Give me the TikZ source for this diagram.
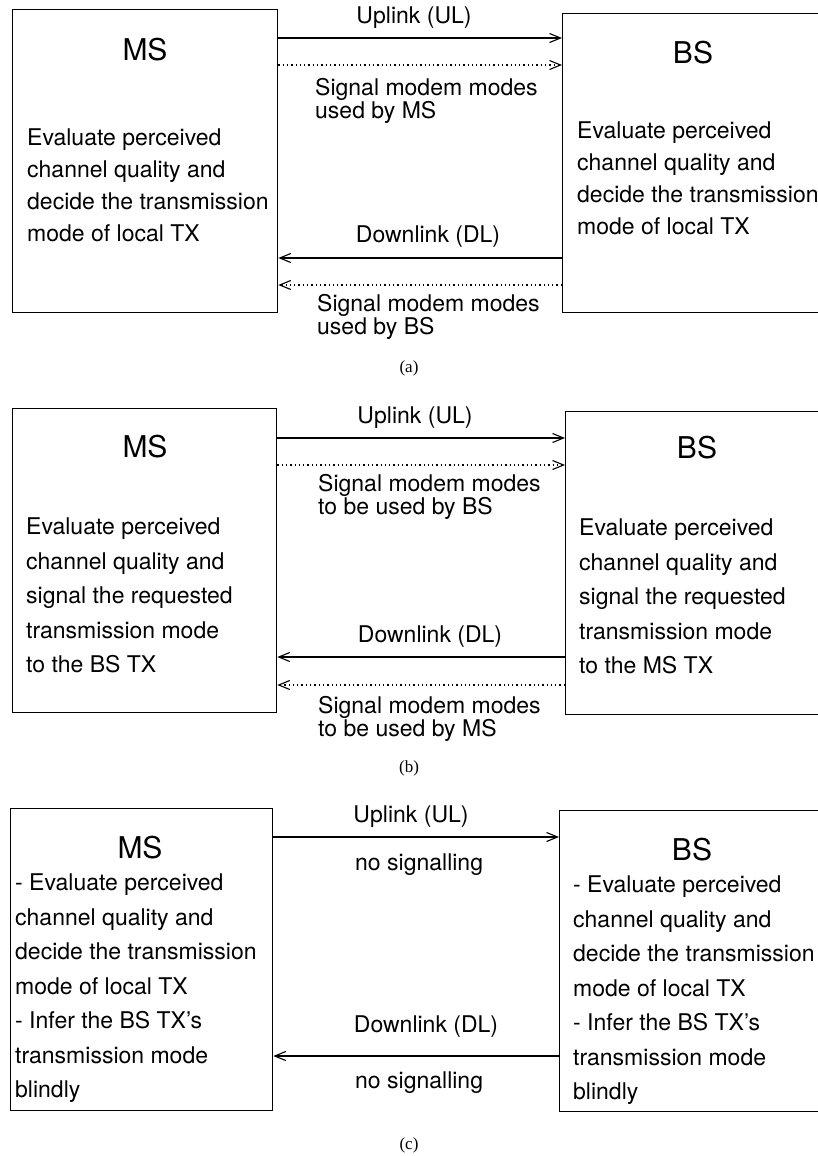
\documentclass[tikz,border=0pt]{standalone}
\usepackage{fontspec}
\setmainfont{TeX Gyre Heros}
\newfontfamily\capfont{Liberation Serif}
\usetikzlibrary{arrows.meta}
\tikzset{
  box/.style={draw, line width=1.3pt, inner sep=0pt, anchor=north west},
  ttl/.style={font=\fontsize{30}{30}\selectfont, inner sep=0pt},
  bodya/.style={font=\fontsize{23}{31.8}\selectfont, align=left, anchor=north west, inner sep=0pt},
  bodyb/.style={font=\fontsize{23}{34.5}\selectfont, align=left, anchor=north west, inner sep=0pt},
  lbl/.style={font=\fontsize{23}{19.5}\selectfont, align=left, inner sep=0pt},
  figcap/.style={font=\capfont\fontsize{17}{17}\selectfont, inner sep=0pt},
  link/.style={line width=1.3pt, -{Straight Barb[length=11pt,width=9pt,line width=1.1pt]}},
  sig/.style={link, dash pattern=on 1.3pt off 3pt}
}
\begin{document}
\begin{tikzpicture}[x=1pt,y=-1pt]
\useasboundingbox (0,0) rectangle (818,1156);
\clip (0,0) rectangle (818,1156);
% ---------------- (a)
\node[box, minimum width=265pt, minimum height=303pt] (msa) at (12,9) {};
\node[box, minimum width=300pt, minimum height=299pt] (bsa) at (562,13) {};
\node[ttl] (msat) at (145,50) {MS};
\node[ttl] (bsat) at (693,53) {BS};
\node[bodya] (msab) at (27,129) {Evaluate perceived\\channel quality and\\decide the transmission\\mode of local TX};
\node[bodya] (bsab) at (577,122) {Evaluate perceived\\channel quality and\\decide the transmission\\mode of local TX};
\node[lbl] (ula) at (414,18) {Uplink (UL)};
\draw[link] (msa.east |- 0,38) -- (bsa.west |- 0,38);
\draw[sig] (msa.east |- 0,65) -- (bsa.west |- 0,65);
\node[lbl, anchor=north west] (sula) at (315,78) {Signal modem modes\\used by MS};
\node[lbl] (dla) at (428,237) {Downlink (DL)};
\draw[link] (bsa.west |- 0,258) -- (msa.east |- 0,258);
\draw[sig] (bsa.west |- 0,285) -- (msa.east |- 0,285);
\node[lbl, anchor=north west] (sdla) at (317,294) {Signal modem modes\\used by BS};
\node[figcap] (capa) at (409,368) {(a)};
% ---------------- (b)
\node[box, minimum width=264pt, minimum height=304pt] (msb) at (12,408) {};
\node[box, minimum width=300pt, minimum height=303pt] (bsb) at (565,411) {};
\node[ttl] (msbt) at (145,447) {MS};
\node[ttl] (bsbt) at (697,448) {BS};
\node[bodyb] (msbb) at (26,518) {Evaluate perceived\\channel quality and\\signal the requested\\transmission mode\\to the BS TX};
\node[bodyb] (bsbb) at (579,519) {Evaluate perceived\\channel quality and\\signal the requested\\transmission mode\\to the MS TX};
\node[lbl] (ulb) at (415,418) {Uplink (UL)};
\draw[link] (msb.east |- 0,438) -- (bsb.west |- 0,438);
\draw[sig] (msb.east |- 0,465) -- (bsb.west |- 0,465);
\node[lbl, anchor=north west] (sulb) at (318,474) {Signal modem modes\\to be used by BS};
\node[lbl] (dlb) at (430,637) {Downlink (DL)};
\draw[link] (bsb.west |- 0,657) -- (msb.east |- 0,657);
\draw[sig] (bsb.west |- 0,685) -- (msb.east |- 0,685);
\node[lbl, anchor=north west] (sdlb) at (318,696) {Signal modem modes\\to be used by MS};
\node[figcap] (capb) at (409,768) {(b)};
% ---------------- (c)
\node[box, minimum width=262pt, minimum height=302pt] (msc) at (10,808) {};
\node[box, minimum width=300pt, minimum height=301pt] (bsc) at (559,810) {};
\node[ttl] (msct) at (140,848) {MS};
\node[ttl] (bsct) at (692,850) {BS};
\node[bodyb] (mscb) at (15,874) {- Evaluate perceived\\channel quality and\\decide the transmission\\mode of local TX\\- Infer the BS TX's\\transmission mode\\blindly};
\node[bodyb] (bscb) at (573,876) {- Evaluate perceived\\channel quality and\\decide the transmission\\mode of local TX\\- Infer the BS TX's\\transmission mode\\blindly};
\node[lbl] (ulc) at (411,817) {Uplink (UL)};
\draw[link] (msc.east |- 0,837) -- (bsc.west |- 0,837);
\node[lbl, anchor=west] (nsu) at (355,865) {no signalling};
\node[lbl] (dlc) at (426,1027) {Downlink (DL)};
\draw[link] (bsc.west |- 0,1056) -- (msc.east |- 0,1056);
\node[lbl, anchor=west] (nsd) at (355,1083) {no signalling};
\node[figcap] (capc) at (409,1145) {(c)};
\end{tikzpicture}
\end{document}
